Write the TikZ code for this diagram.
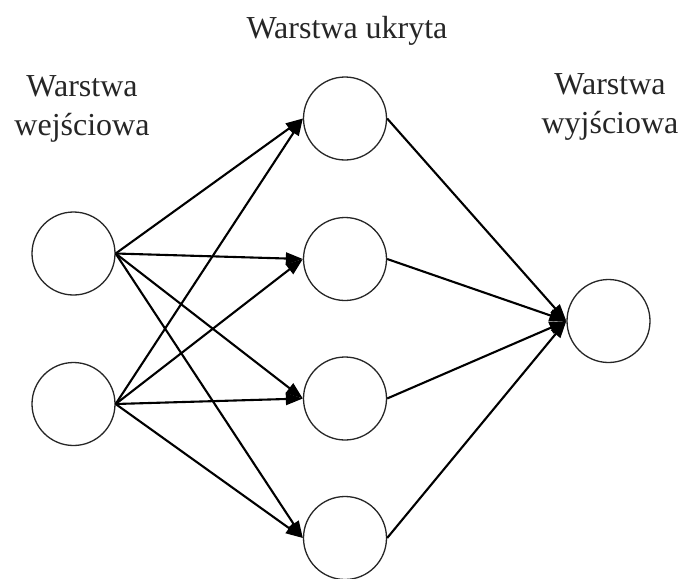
\documentclass[tikz,border=0pt]{standalone}
\usepackage{fontspec}
\setmainfont{Liberation Serif}
\usetikzlibrary{arrows.meta}
\begin{document}
\begin{tikzpicture}[x=1pt,y=1pt,
  neuron/.style={circle,draw=black!85,line width=1.3pt,minimum size=83pt,inner sep=0pt},
  conn/.style={line width=2.1pt,-{Triangle[length=17pt,width=12pt]}},
  lbl/.style={font=\fontsize{32}{39}\selectfont,text=black!85,align=center,inner sep=0pt}]
\useasboundingbox (0,0) rectangle (684,-578);
\fill[white] (0,0) rectangle (684,-578);
% nodes
\node[neuron] (i1) at (73.5,-253.5) {};
\node[neuron] (i2) at (73.5,-404) {};
\node[neuron] (h1) at (345,-118.5) {};
\node[neuron] (h2) at (345,-259) {};
\node[neuron] (h3) at (345,-398.5) {};
\node[neuron] (h4) at (345,-538) {};
\node[neuron] (o1) at (608.5,-321) {};
% labels
\node[lbl,anchor=base] (lh) at (347,-39) {Warstwa ukryta};
\node[lbl,anchor=base] (li) at (82,-135) {Warstwa\\wejściowa};
\node[lbl,anchor=base] (lo) at (610,-133) {Warstwa\\wyjściowa};
% connections
\foreach \i in {i1,i2}{
  \foreach \h in {h1,h2,h3,h4}{
    \draw[conn] (\i.east) -- (\h.west);
  }
}
\foreach \h in {h1,h2,h3,h4}{
  \draw[conn] (\h.east) -- (o1.west);
}
\end{tikzpicture}
\end{document}
